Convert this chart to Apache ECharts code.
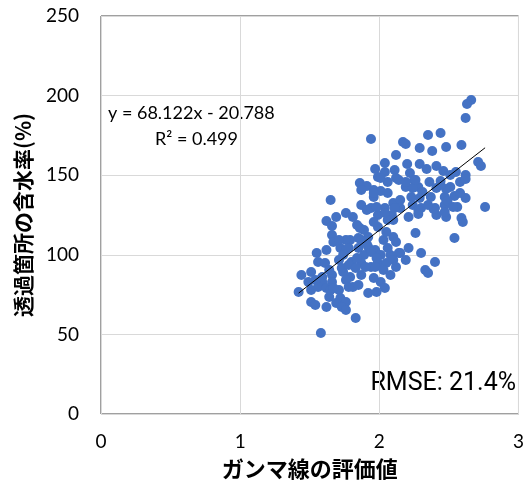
<!DOCTYPE html>
<html>
<head>
<meta charset="utf-8">
<script src="https://cdn.jsdelivr.net/npm/echarts@6/dist/echarts.min.js"></script>
<style>
  html, body { margin: 0; padding: 0; background: #fff; }
  #chart { width: 527px; height: 488px; }
</style>
</head>
<body>
<div id="chart"></div>
<script>
// Gamma-ray evaluation value (x) vs. moisture content at the transmission point (y, %)
const gammaValues = [
  2.66, 2.63, 2.62, 2.35, 2.44, 1.94, 2.17, 2.19, 2.29, 2.38, 2.48, 2.59, 2.71, 2.73, 2.12, 2.20,
  2.29, 2.34, 2.41, 2.46, 2.55, 2.62, 1.97, 2.04, 1.86, 1.91, 1.99, 2.04, 2.11, 2.06, 2.14, 2.22,
  2.25, 2.19, 2.28, 2.36, 2.44, 2.51, 2.58, 2.62, 1.87, 1.96, 2.01, 1.96, 2.06, 2.10, 2.15, 2.23,
  2.31, 2.37, 2.47, 2.54, 2.62, 1.65, 1.87, 1.94, 2.04, 2.15, 2.24, 2.30, 2.40, 2.47, 2.56, 2.76,
  1.76, 1.69, 1.62, 1.81, 1.99, 2.09, 2.21, 2.28, 2.41, 2.48, 2.51, 2.24, 2.41, 2.48, 2.58, 2.29,
  2.49, 2.53, 2.39, 2.47, 2.59, 2.60, 2.10, 1.91, 2.35, 1.66, 1.89, 1.99, 2.06, 2.10, 2.03, 1.66,
  1.67, 1.79, 1.85, 2.26, 2.54, 1.55, 1.62, 1.72, 1.76, 1.92, 1.97, 2.01, 2.08, 2.15, 2.19, 2.30,
  1.56, 1.61, 1.71, 1.80, 1.87, 1.94, 1.99, 2.05, 2.12, 2.40, 1.44, 1.51, 1.59, 1.66, 1.74, 1.79,
  1.87, 2.33, 2.35, 1.49, 1.59, 1.66, 1.76, 2.01, 2.04, 1.42, 1.51, 1.56, 1.62, 1.71, 1.78, 1.81,
  1.92, 1.98, 1.64, 1.72, 1.51, 1.54, 1.62, 1.69, 1.76, 1.73, 1.76, 1.83, 1.58, 1.64, 1.54, 1.65,
  1.67, 1.73, 1.78, 1.83, 1.90, 1.97, 1.86, 1.92, 1.76, 1.87, 1.78, 1.85, 1.96, 2.01, 1.98, 2.04,
  2.11, 1.71, 2.12, 2.19, 2.26, 2.44, 2.28, 2.12, 2.14, 1.89, 1.94, 1.84, 1.98, 2.06, 1.91, 2.03,
  1.96, 1.85, 2.08, 1.74, 2.10, 2.21, 2.05, 1.96, 1.84
];
const moistureValues = [
  197.2, 194.7, 185.9, 175.3, 176.5, 172.7, 170.9, 169.6, 167.1, 165.2, 167.7, 169.0, 158.3, 155.8, 162.7, 157.0,
  157.0, 153.9, 155.8, 152.6, 152.0, 150.1, 153.9, 157.7, 145.1, 143.2, 148.9, 152.0, 153.3, 145.7, 147.0, 151.4,
  147.0, 142.6, 142.6, 145.7, 146.4, 142.6, 145.7, 147.6, 140.7, 140.7, 140.1, 136.3, 138.8, 132.5, 134.4, 136.3,
  139.4, 136.3, 136.3, 136.9, 135.7, 134.4, 131.3, 129.4, 129.4, 129.4, 131.3, 129.4, 129.4, 131.3, 130.0, 130.0,
  126.3, 123.7, 121.2, 123.7, 125.0, 125.0, 123.7, 125.6, 125.0, 123.7, 150.1, 142.0, 142.0, 141.3, 138.8, 135.7,
  133.8, 130.0, 128.8, 126.9, 123.1, 120.6, 121.9, 128.1, 131.3, 118.1, 115.6, 117.5, 121.9, 111.2, 109.3, 112.4,
  108.0, 109.3, 110.6, 113.7, 110.6, 101.1, 103.0, 104.3, 103.0, 104.9, 103.0, 99.9, 99.9, 101.1, 96.7, 101.1,
  95.5, 94.8, 96.7, 95.5, 94.8, 92.3, 94.8, 94.8, 92.3, 95.5, 87.3, 89.2, 86.1, 87.3, 89.2, 86.1,
  87.3, 90.5, 88.6, 82.9, 82.9, 82.9, 84.2, 82.9, 79.1, 76.6, 77.9, 79.8, 79.1, 77.9, 79.8, 79.8,
  76.0, 76.6, 73.5, 72.9, 70.4, 68.5, 67.2, 69.7, 70.4, 67.2, 65.3, 60.3, 50.9, 90.5, 84.2, 77.9,
  79.1, 91.7, 93.6, 91.7, 92.3, 92.3, 116.8, 111.2, 109.3, 109.3, 104.3, 104.3, 138.8, 148.2, 130.0, 126.3,
  129.4, 109.3, 148.2, 145.7, 147.0, 143.8, 128.1, 108.0, 101.1, 99.9, 101.8, 98.0, 98.0, 104.3, 106.8, 90.5,
  85.4, 81.0, 87.3, 99.9, 96.7, 104.3, 114.3, 120.6, 118.7
];

// Linear fit reported for the data
const fitSlope = 68.122;
const fitIntercept = -20.788;
const fitR2 = 0.499;
const rmsePercent = 21.4;

const xTicks = [0, 1, 2, 3];
const yTicks = [0, 50, 100, 150, 200, 250];

const xAxisTitle = 'ガンマ線の評価値';
const yAxisTitle = '透過箇所の含水率(%)';

const points = gammaValues.map((g, i) => [g, moistureValues[i]]);
const xMinData = Math.min(...gammaValues);
const xMaxData = Math.max(...gammaValues);
const fitLine = [
  [xMinData, fitSlope * xMinData + fitIntercept],
  [xMaxData, fitSlope * xMaxData + fitIntercept]
];

const latin = 'Lato, "Open Sans", sans-serif';
const cjk = '"Noto Sans CJK JP", sans-serif';

const chart = echarts.init(document.getElementById('chart'), null, { renderer: 'canvas' });
chart.setOption({
  animation: false,
  backgroundColor: '#ffffff',
  grid: {
    left: 101, top: 16, right: 6, bottom: 74,
    show: true, borderColor: '#404040', borderWidth: 1, backgroundColor: 'transparent'
  },
  xAxis: {
    type: 'value',
    min: xTicks[0], max: xTicks[xTicks.length - 1], interval: 1,
    name: xAxisTitle, nameLocation: 'middle', nameGap: 44,
    nameTextStyle: { fontFamily: cjk, fontWeight: 'bold', fontSize: 22, color: '#000' },
    axisLine: { show: false },
    axisTick: { show: false },
    axisLabel: { margin: 18, fontFamily: latin, fontSize: 19, color: '#000' },
    splitLine: { show: true, lineStyle: { color: '#d9d9d9', width: 1 } }
  },
  yAxis: {
    type: 'value',
    min: yTicks[0], max: yTicks[yTicks.length - 1], interval: 50,
    name: yAxisTitle, nameLocation: 'middle', nameGap: 67,
    nameTextStyle: { fontFamily: cjk, fontWeight: 'bold', fontSize: 21, color: '#000' },
    axisLine: { show: false },
    axisTick: { show: false },
    axisLabel: { margin: 22, fontFamily: latin, fontSize: 19, color: '#000' },
    splitLine: { show: true, lineStyle: { color: '#d9d9d9', width: 1 } }
  },
  series: [
    {
      type: 'scatter',
      data: points,
      symbol: 'circle',
      symbolSize: 10,
      itemStyle: { color: '#4472C4', opacity: 1 },
      z: 2
    },
    {
      type: 'line',
      data: fitLine,
      symbol: 'none',
      lineStyle: { color: '#000000', width: 1 },
      z: 3
    }
  ],
  graphic: [
    {
      type: 'text', left: 108, top: 104,
      style: {
        text: 'y = ' + fitSlope.toFixed(3) + 'x - ' + Math.abs(fitIntercept).toFixed(3),
        font: '18px ' + latin, fill: '#000'
      }
    },
    {
      type: 'text', left: 155, top: 130,
      style: { text: 'R² = ' + fitR2.toFixed(3), font: '18px ' + latin, fill: '#000' }
    },
    {
      type: 'text', right: 11, top: 371,
      style: { text: 'RMSE: ' + rmsePercent.toFixed(1) + '%', font: '25px Roboto, "Liberation Sans", sans-serif', fill: '#000' }
    }
  ]
});
</script>
</body>
</html>
